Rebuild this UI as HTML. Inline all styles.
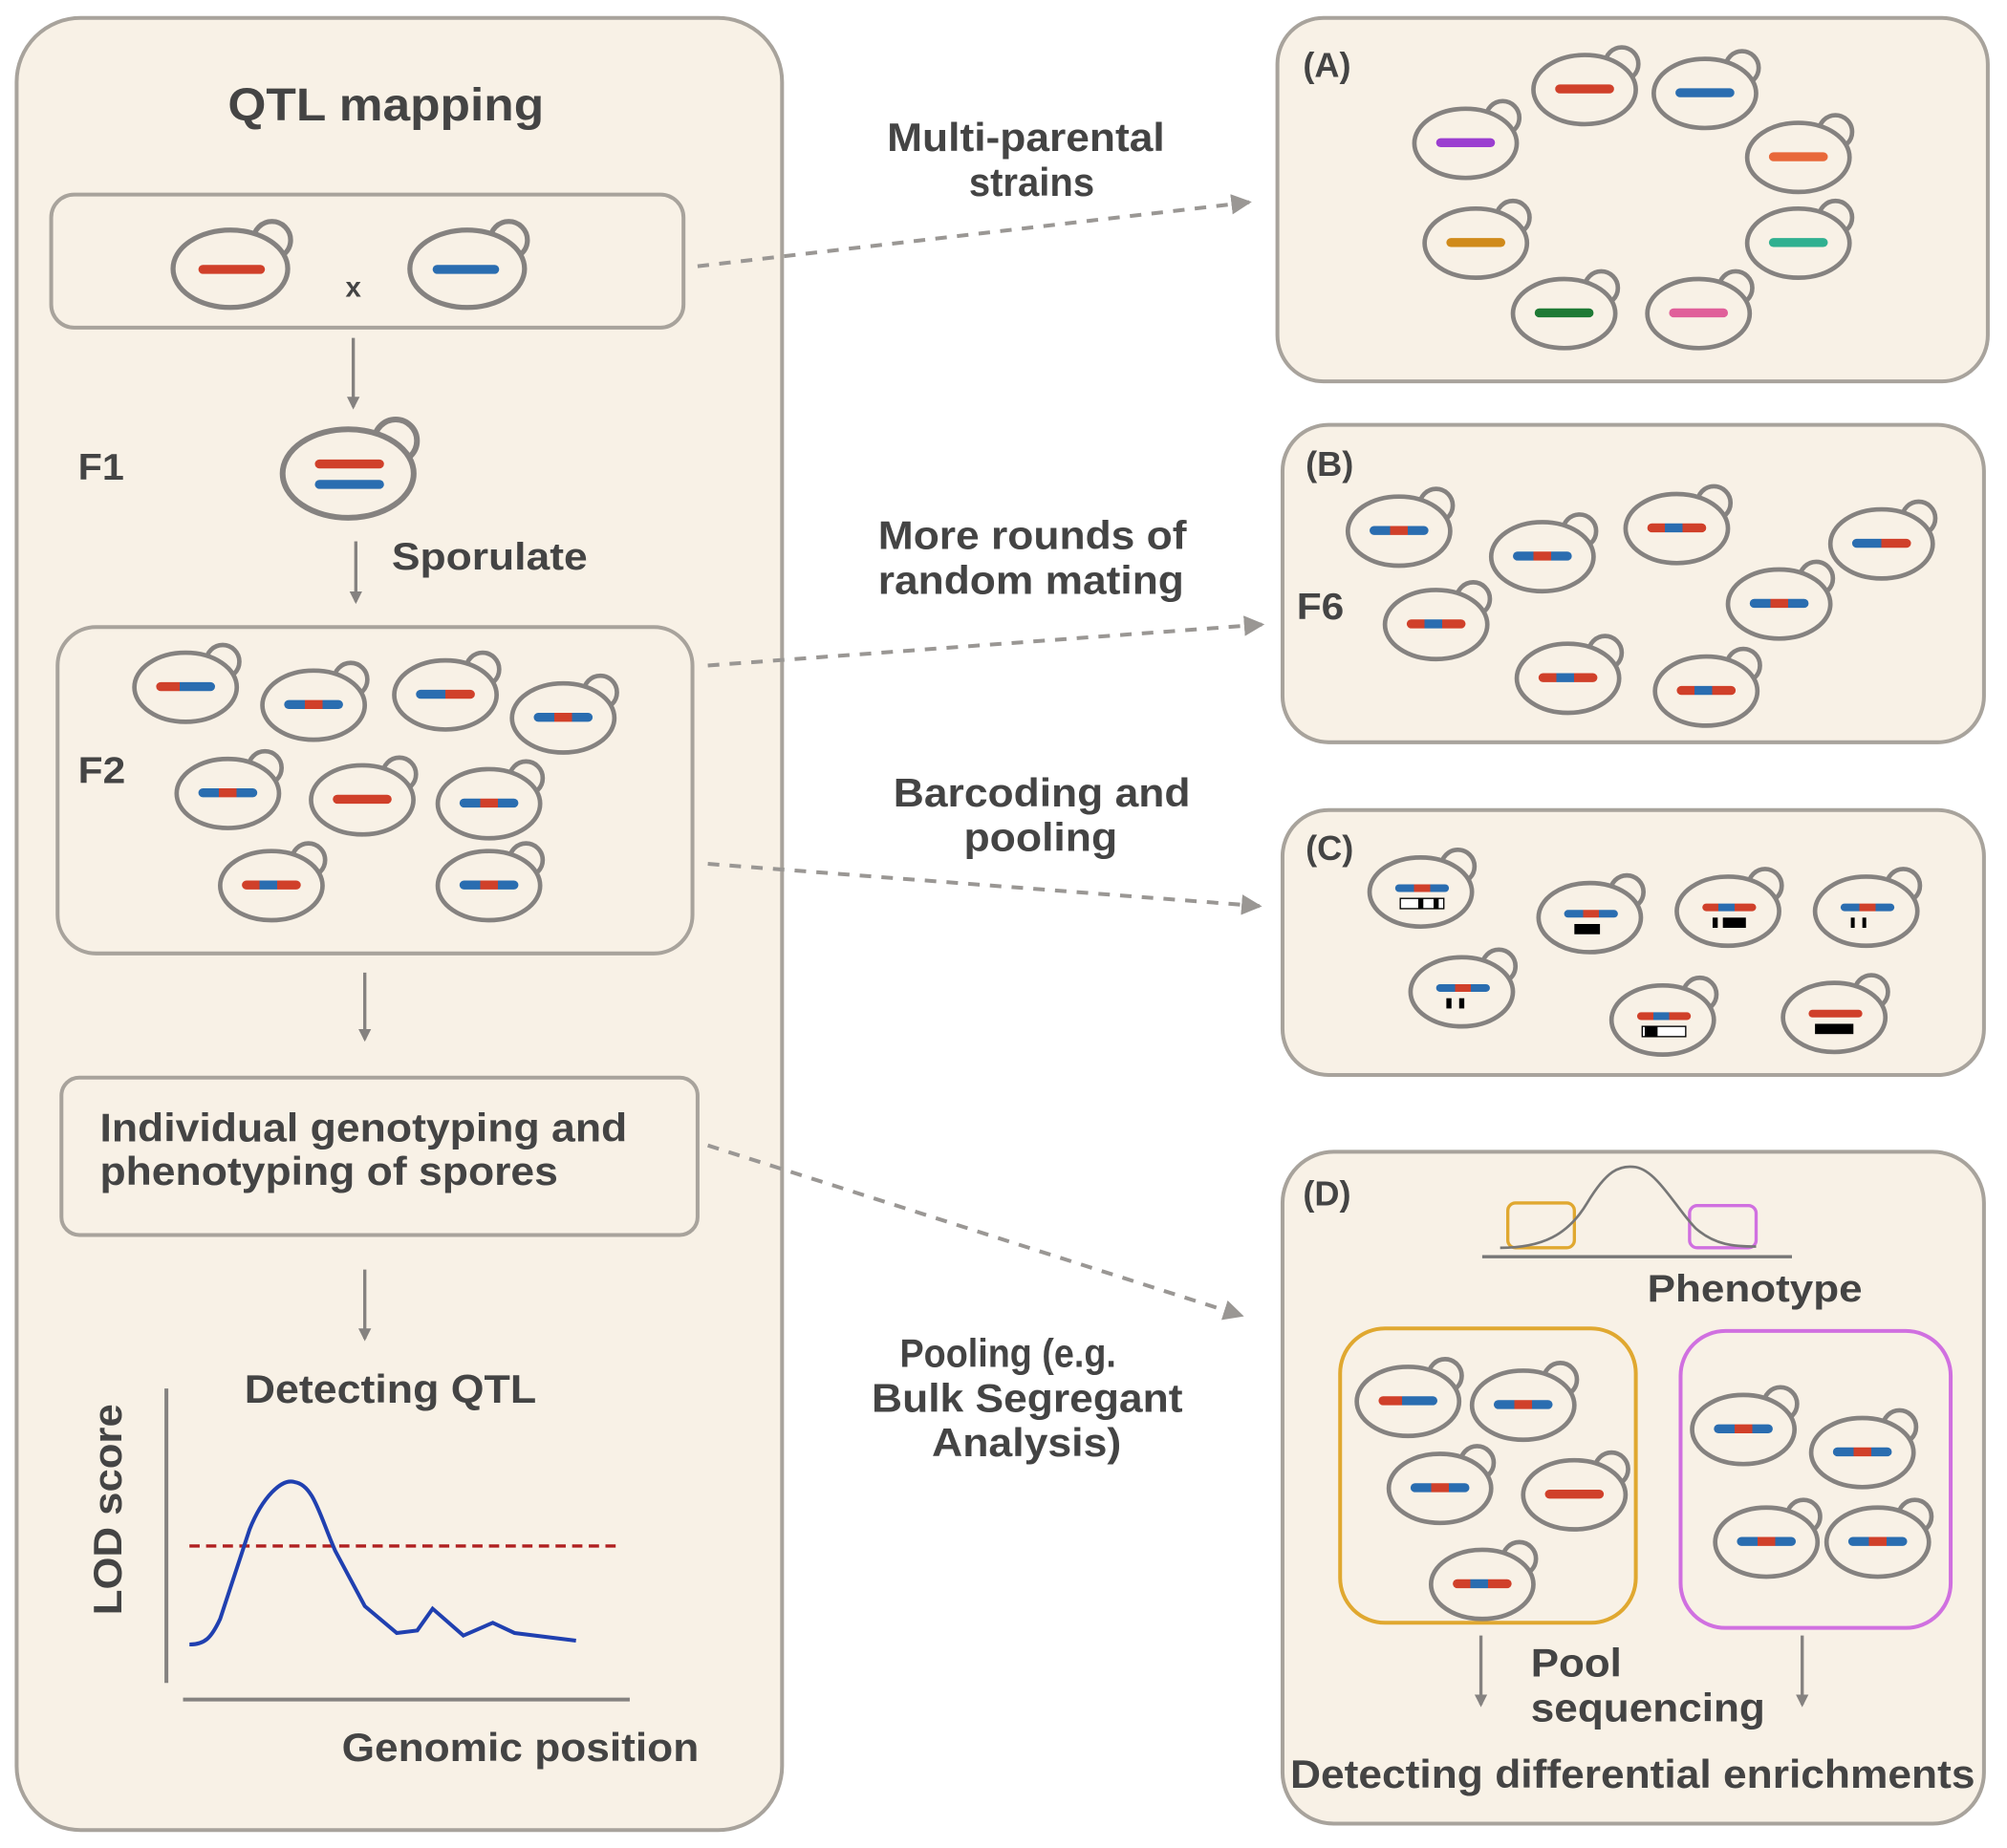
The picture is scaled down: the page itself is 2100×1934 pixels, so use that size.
<!DOCTYPE html>
<html><head><meta charset="utf-8"><style>
html,body{margin:0;padding:0;background:#fff}
svg{display:block}
text{font-family:"Liberation Sans",Arial,sans-serif;font-weight:bold;fill:#444}
</style></head><body>
<svg width="2100" height="1934" viewBox="0 0 1568 1444" preserveAspectRatio="none" xmlns="http://www.w3.org/2000/svg">
<defs>
<g id="c">
<circle cx="29" cy="-20" r="13" fill="#f8f1e6" stroke="#858280" stroke-width="3.5"/>
<ellipse cx="0" cy="0" rx="40" ry="27" fill="#f8f1e6" stroke="#858280" stroke-width="3.5"/>
</g>
<linearGradient id="gRB"><stop offset="0" stop-color="#d0402a"/><stop offset=".4" stop-color="#d0402a"/><stop offset=".4" stop-color="#2a6db0"/><stop offset="1" stop-color="#2a6db0"/></linearGradient>
<linearGradient id="gBR"><stop offset="0" stop-color="#2a6db0"/><stop offset=".5" stop-color="#2a6db0"/><stop offset=".5" stop-color="#d0402a"/><stop offset="1" stop-color="#d0402a"/></linearGradient>
<linearGradient id="gBRB"><stop offset="0" stop-color="#2a6db0"/><stop offset=".35" stop-color="#2a6db0"/><stop offset=".35" stop-color="#d0402a"/><stop offset=".65" stop-color="#d0402a"/><stop offset=".65" stop-color="#2a6db0"/><stop offset="1" stop-color="#2a6db0"/></linearGradient>
<linearGradient id="gRBR"><stop offset="0" stop-color="#d0402a"/><stop offset=".3" stop-color="#d0402a"/><stop offset=".3" stop-color="#2a6db0"/><stop offset=".6" stop-color="#2a6db0"/><stop offset=".6" stop-color="#d0402a"/><stop offset="1" stop-color="#d0402a"/></linearGradient>
<marker id="ah" markerWidth="10" markerHeight="10" refX="8" refY="5" orient="auto" markerUnits="userSpaceOnUse"><path d="M0,0 L10,5 L0,10 z" fill="#858280"/></marker>
<marker id="ah2" markerWidth="16" markerHeight="16" refX="14" refY="8" orient="auto" markerUnits="userSpaceOnUse"><path d="M0,0 L16,8 L0,16 z" fill="#9a9794"/></marker>
</defs>
<rect width="1568" height="1444" fill="#fff"/>

<!-- LEFT PANEL -->
<rect x="13" y="14" width="598" height="1416" rx="50" fill="#f8f1e6" stroke="#a8a39c" stroke-width="3"/>
<text x="178" y="94" font-size="36" textLength="247" lengthAdjust="spacingAndGlyphs">QTL mapping</text>

<rect x="40" y="152" width="494" height="104" rx="18" fill="#f8f1e6" stroke="#a8a39c" stroke-width="3"/>
<g transform="translate(180,210) scale(1.12)"><use href="#c"/></g>
<rect x="155" y="207" width="52" height="7" rx="3.5" fill="#d0402a"/>
<text x="276" y="232" font-size="22" text-anchor="middle" fill="#666">x</text>
<g transform="translate(365,210) scale(1.12)"><use href="#c"/></g>
<rect x="338" y="207" width="52" height="7" rx="3.5" fill="#2a6db0"/>

<line x1="276" y1="264" x2="276" y2="318" stroke="#858280" stroke-width="2.5" marker-end="url(#ah)"/>
<text x="61" y="375" font-size="29" textLength="36" lengthAdjust="spacingAndGlyphs">F1</text>
<g transform="translate(272,370) scale(1.28)"><use href="#c"/></g>
<rect x="246" y="359" width="54" height="7" rx="3.5" fill="#d0402a"/>
<rect x="246" y="375" width="54" height="7" rx="3.5" fill="#2a6db0"/>
<line x1="278" y1="423" x2="278" y2="470" stroke="#858280" stroke-width="2.5" marker-end="url(#ah)"/>
<text x="306" y="445" font-size="30" textLength="153" lengthAdjust="spacingAndGlyphs">Sporulate</text>

<rect x="45" y="490" width="496" height="255" rx="30" fill="#f8f1e6" stroke="#a8a39c" stroke-width="3"/>
<text x="61" y="612" font-size="29" textLength="37" lengthAdjust="spacingAndGlyphs">F2</text>
<use href="#c" x="145" y="537"/><rect x="122" y="533" width="46" height="7" rx="3.5" fill="url(#gRB)"/>
<use href="#c" x="245" y="551"/><rect x="222" y="547" width="46" height="7" rx="3.5" fill="url(#gBRB)"/>
<use href="#c" x="348" y="543"/><rect x="325" y="539" width="46" height="7" rx="3.5" fill="url(#gBR)"/>
<use href="#c" x="440" y="561"/><rect x="417" y="557" width="46" height="7" rx="3.5" fill="url(#gBRB)"/>
<use href="#c" x="178" y="620"/><rect x="155" y="616" width="46" height="7" rx="3.5" fill="url(#gBRB)"/>
<use href="#c" x="283" y="625"/><rect x="260" y="621" width="46" height="7" rx="3.5" fill="#d0402a"/>
<use href="#c" x="382" y="628"/><rect x="359" y="624" width="46" height="7" rx="3.5" fill="url(#gBRB)"/>
<use href="#c" x="212" y="692"/><rect x="189" y="688" width="46" height="7" rx="3.5" fill="url(#gRBR)"/>
<use href="#c" x="382" y="692"/><rect x="359" y="688" width="46" height="7" rx="3.5" fill="url(#gBRB)"/>

<line x1="285" y1="760" x2="285" y2="812" stroke="#858280" stroke-width="2.5" marker-end="url(#ah)"/>
<rect x="48" y="842" width="497" height="123" rx="14" fill="#f8f1e6" stroke="#a8a39c" stroke-width="3"/>
<text x="78" y="892" font-size="31" textLength="412" lengthAdjust="spacingAndGlyphs">Individual genotyping and</text>
<text x="78" y="926" font-size="31" textLength="358" lengthAdjust="spacingAndGlyphs">phenotyping of spores</text>
<line x1="285" y1="992" x2="285" y2="1046" stroke="#858280" stroke-width="2.5" marker-end="url(#ah)"/>

<text x="191" y="1096" font-size="31" textLength="228" lengthAdjust="spacingAndGlyphs">Detecting QTL</text>
<text transform="translate(95,1262) rotate(-90)" font-size="31" textLength="165" lengthAdjust="spacingAndGlyphs">LOD score</text>
<line x1="130" y1="1085" x2="130" y2="1315" stroke="#858280" stroke-width="3"/>
<line x1="143" y1="1328" x2="492" y2="1328" stroke="#858280" stroke-width="3"/>
<line x1="148" y1="1208" x2="482" y2="1208" stroke="#b02020" stroke-width="2.5" stroke-dasharray="8,5"/>
<path d="M148,1285 C160,1285 165,1280 172,1265 L195,1195 C205,1170 220,1155 230,1158 C245,1160 250,1185 262,1212 L285,1255 L310,1276 L326,1274 L338,1257 L362,1278 L385,1268 L402,1276 L450,1282" fill="none" stroke="#2040b0" stroke-width="3"/>
<text x="267" y="1376" font-size="31" textLength="279" lengthAdjust="spacingAndGlyphs">Genomic position</text>

<!-- DASHED CONNECTORS -->
<g stroke="#9a9794" stroke-width="3" stroke-dasharray="9,8" fill="none">
<line x1="545" y1="208" x2="976" y2="158" marker-end="url(#ah2)"/>
<line x1="553" y1="520" x2="986" y2="488" marker-end="url(#ah2)"/>
<line x1="553" y1="675" x2="984" y2="708" marker-end="url(#ah2)"/>
<line x1="553" y1="895" x2="970" y2="1028" marker-end="url(#ah2)"/>
</g>
<g font-size="31" lengthAdjust="spacingAndGlyphs">
<text x="693" y="118" textLength="217" lengthAdjust="spacingAndGlyphs">Multi-parental</text><text x="757" y="153" textLength="98" lengthAdjust="spacingAndGlyphs">strains</text>
<text x="686" y="429" textLength="241" lengthAdjust="spacingAndGlyphs">More rounds of</text><text x="686" y="464" textLength="239" lengthAdjust="spacingAndGlyphs">random mating</text>
<text x="698" y="630" textLength="232" lengthAdjust="spacingAndGlyphs">Barcoding and</text><text x="753" y="665" textLength="120" lengthAdjust="spacingAndGlyphs">pooling</text>
<text x="703" y="1068" textLength="169" lengthAdjust="spacingAndGlyphs">Pooling (e.g.</text><text x="681" y="1103" textLength="243" lengthAdjust="spacingAndGlyphs">Bulk Segregant</text><text x="728" y="1138" textLength="148" lengthAdjust="spacingAndGlyphs">Analysis)</text>
</g>

<!-- PANEL A -->
<rect x="998" y="14" width="555" height="284" rx="36" fill="#f8f1e6" stroke="#a8a39c" stroke-width="3"/>
<text x="1018" y="60" font-size="27">(A)</text>
<use href="#c" x="1145" y="112"/><rect x="1122" y="108" width="46" height="7" rx="3.5" fill="#9b3fd0"/>
<use href="#c" x="1238" y="70"/><rect x="1215" y="66" width="46" height="7" rx="3.5" fill="#d0402a"/>
<use href="#c" x="1332" y="73"/><rect x="1309" y="69" width="46" height="7" rx="3.5" fill="#2a6db0"/>
<use href="#c" x="1405" y="123"/><rect x="1382" y="119" width="46" height="7" rx="3.5" fill="#e8683a"/>
<use href="#c" x="1153" y="190"/><rect x="1130" y="186" width="46" height="7" rx="3.5" fill="#d08a1a"/>
<use href="#c" x="1405" y="190"/><rect x="1382" y="186" width="46" height="7" rx="3.5" fill="#30b090"/>
<use href="#c" x="1222" y="245"/><rect x="1199" y="241" width="46" height="7" rx="3.5" fill="#1f7a35"/>
<use href="#c" x="1327" y="245"/><rect x="1304" y="241" width="46" height="7" rx="3.5" fill="#e0609a"/>

<!-- PANEL B -->
<rect x="1002" y="332" width="548" height="248" rx="36" fill="#f8f1e6" stroke="#a8a39c" stroke-width="3"/>
<text x="1020" y="372" font-size="27">(B)</text>
<text x="1013" y="484" font-size="29" textLength="37" lengthAdjust="spacingAndGlyphs">F6</text>
<use href="#c" x="1093" y="415"/><rect x="1070" y="411" width="46" height="7" rx="3.5" fill="url(#gBRB)"/>
<use href="#c" x="1205" y="435"/><rect x="1182" y="431" width="46" height="7" rx="3.5" fill="url(#gBRB)"/>
<use href="#c" x="1310" y="413"/><rect x="1287" y="409" width="46" height="7" rx="3.5" fill="url(#gRBR)"/>
<use href="#c" x="1470" y="425"/><rect x="1447" y="421" width="46" height="7" rx="3.5" fill="url(#gBR)"/>
<use href="#c" x="1122" y="488"/><rect x="1099" y="484" width="46" height="7" rx="3.5" fill="url(#gRBR)"/>
<use href="#c" x="1390" y="472"/><rect x="1367" y="468" width="46" height="7" rx="3.5" fill="url(#gBRB)"/>
<use href="#c" x="1225" y="530"/><rect x="1202" y="526" width="46" height="7" rx="3.5" fill="url(#gRBR)"/>
<use href="#c" x="1333" y="540"/><rect x="1310" y="536" width="46" height="7" rx="3.5" fill="url(#gRBR)"/>

<!-- PANEL C -->
<rect x="1002" y="633" width="548" height="207" rx="36" fill="#f8f1e6" stroke="#a8a39c" stroke-width="3"/>
<text x="1020" y="672" font-size="27">(C)</text>
<use href="#c" x="1110" y="697"/><rect x="1090" y="691" width="42" height="6" rx="3" fill="url(#gBRB)"/><rect x="1094" y="702" width="34" height="8" fill="#fff" stroke="#000" stroke-width="1"/><rect x="1108" y="702" width="4" height="8" fill="#000"/><rect x="1120" y="702" width="4" height="8" fill="#000"/>
<use href="#c" x="1242" y="717"/><rect x="1222" y="711" width="42" height="6" rx="3" fill="url(#gBRB)"/><rect x="1230" y="722" width="20" height="8" fill="#000"/>
<use href="#c" x="1350" y="712"/><rect x="1330" y="706" width="42" height="6" rx="3" fill="url(#gRBR)"/><rect x="1346" y="717" width="18" height="8" fill="#000"/><rect x="1338" y="717" width="4" height="8" fill="#000"/>
<use href="#c" x="1458" y="712"/><rect x="1438" y="706" width="42" height="6" rx="3" fill="url(#gBRB)"/><rect x="1446" y="717" width="3" height="8" fill="#000"/><rect x="1455" y="717" width="3" height="8" fill="#000"/>
<use href="#c" x="1142" y="775"/><rect x="1122" y="769" width="42" height="6" rx="3" fill="url(#gBRB)"/><rect x="1130" y="780" width="4" height="8" fill="#000"/><rect x="1140" y="780" width="4" height="8" fill="#000"/>
<use href="#c" x="1299" y="797"/><rect x="1279" y="791" width="42" height="6" rx="3" fill="url(#gRBR)"/><rect x="1283" y="802" width="34" height="8" fill="#fff" stroke="#000" stroke-width="1"/><rect x="1285" y="802" width="10" height="8" fill="#000"/>
<use href="#c" x="1433" y="795"/><rect x="1413" y="789" width="42" height="6" rx="3" fill="#d0402a"/><rect x="1418" y="800" width="30" height="8" fill="#000"/>

<!-- PANEL D -->
<rect x="1002" y="900" width="548" height="525" rx="40" fill="#f8f1e6" stroke="#a8a39c" stroke-width="3"/>
<text x="1018" y="942" font-size="27">(D)</text>
<rect x="1178" y="940" width="52" height="35" rx="6" fill="none" stroke="#e0a830" stroke-width="2.5"/>
<rect x="1320" y="942" width="52" height="33" rx="6" fill="none" stroke="#d070e0" stroke-width="2.5"/>
<path d="M1172,975 C1205,975 1225,965 1240,940 C1255,915 1265,910 1278,912 C1295,915 1310,945 1325,960 C1340,973 1355,974 1372,974" fill="none" stroke="#777" stroke-width="2"/>
<line x1="1158" y1="982" x2="1400" y2="982" stroke="#777" stroke-width="2.5"/>
<text x="1287" y="1017" font-size="30" textLength="168" lengthAdjust="spacingAndGlyphs">Phenotype</text>

<rect x="1047" y="1038" width="231" height="230" rx="35" fill="none" stroke="#e0a830" stroke-width="3"/>
<rect x="1313" y="1040" width="211" height="232" rx="35" fill="none" stroke="#d070e0" stroke-width="3"/>
<use href="#c" x="1100" y="1095"/><rect x="1077" y="1091" width="46" height="7" rx="3.5" fill="url(#gRB)"/>
<use href="#c" x="1190" y="1098"/><rect x="1167" y="1094" width="46" height="7" rx="3.5" fill="url(#gBRB)"/>
<use href="#c" x="1125" y="1163"/><rect x="1102" y="1159" width="46" height="7" rx="3.5" fill="url(#gBRB)"/>
<use href="#c" x="1230" y="1168"/><rect x="1207" y="1164" width="46" height="7" rx="3.5" fill="#d0402a"/>
<use href="#c" x="1158" y="1238"/><rect x="1135" y="1234" width="46" height="7" rx="3.5" fill="url(#gRBR)"/>
<use href="#c" x="1362" y="1117"/><rect x="1339" y="1113" width="46" height="7" rx="3.5" fill="url(#gBRB)"/>
<use href="#c" x="1455" y="1135"/><rect x="1432" y="1131" width="46" height="7" rx="3.5" fill="url(#gBRB)"/>
<use href="#c" x="1380" y="1205"/><rect x="1357" y="1201" width="46" height="7" rx="3.5" fill="url(#gBRB)"/>
<use href="#c" x="1467" y="1205"/><rect x="1444" y="1201" width="46" height="7" rx="3.5" fill="url(#gBRB)"/>

<line x1="1157" y1="1278" x2="1157" y2="1332" stroke="#858280" stroke-width="2.5" marker-end="url(#ah)"/>
<line x1="1408" y1="1278" x2="1408" y2="1332" stroke="#858280" stroke-width="2.5" marker-end="url(#ah)"/>
<text x="1196" y="1310" font-size="31" textLength="71" lengthAdjust="spacingAndGlyphs">Pool</text>
<text x="1196" y="1345" font-size="31" textLength="183" lengthAdjust="spacingAndGlyphs">sequencing</text>
<text x="1008" y="1397" font-size="31" textLength="535" lengthAdjust="spacingAndGlyphs">Detecting differential enrichments</text>
</svg>
</body></html>
